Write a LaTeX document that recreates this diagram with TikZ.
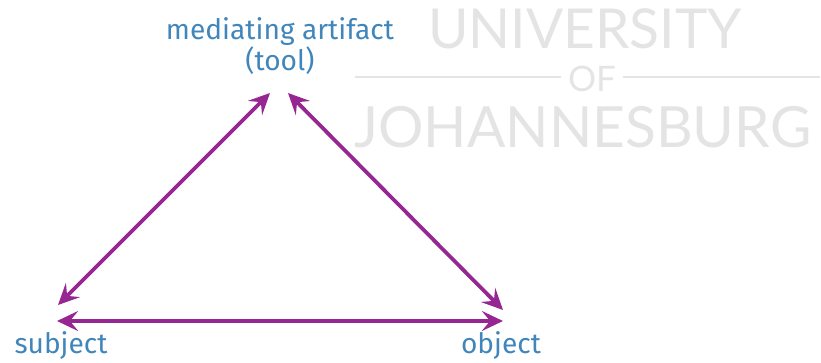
\documentclass[tikz,border=0pt]{standalone}
\usepackage{fontspec}
\setmainfont{Fira Sans}
\newfontfamily\wmfont{Lato}
\usepackage{tikz}
\usetikzlibrary{calc, arrows.meta, positioning}
\definecolor{labelblue}{RGB}{64,134,186}
\definecolor{arrowpurple}{RGB}{150,38,146}
\definecolor{wmgray}{RGB}{228,228,228}

\begin{document}
\begin{tikzpicture}[x=.03cm, y=-.03cm,
    lbl/.style={text=labelblue, font=\fontsize{24}{26.5}\selectfont, align=center, inner sep=0pt},
    twoway/.style={arrowpurple, line width=3.2pt, {Stealth[length=18pt, width=17pt, inset=7pt]}-{Stealth[length=18pt, width=17pt, inset=7pt]}},
    wm/.style={text=wmgray, font=\wmfont, inner sep=0pt}]
        \useasboundingbox (0,0) rectangle (821,362);
        % watermark
        \node[wm, font=\wmfont\fontsize{47}{47}\selectfont, anchor=base west] (uni) at (428,48) {UNIVERSITY};
        \node[wm, font=\wmfont\fontsize{30}{30}\selectfont, anchor=base] (of) at (592,91) {OF};
        \node[wm, font=\wmfont\fontsize{48.5}{48.5}\selectfont, anchor=base west] (jhb) at (354,147) {JOHANNESBURG};
        \coordinate (ofL) at (355,77);
        \coordinate (ofR) at (820,77);
        \draw[wmgray, line width=2pt] (ofL) -- ([xshift=-6pt]of.west |- ofL);
        \draw[wmgray, line width=2pt] ([xshift=6pt]of.east |- ofR) -- (ofR);
        % labels
        \node[lbl] (tool) at (280,46) {mediating artifact\\(tool)};
        \node[lbl, anchor=base] (subj) at (61,353) {subject};
        \node[lbl, anchor=base] (obj) at (501,353) {object};
        % arrow ends
        \coordinate (toolL) at (270,93);
        \coordinate (toolR) at (288,93);
        \coordinate (subjU) at (58,305);
        \coordinate (subjR) at (57,321);
        \coordinate (objU) at (503,310);
        \coordinate (objL) at (503,321);
        \draw[twoway] (subjU) -- (toolL);
        \draw[twoway] (toolR) -- (objU);
        \draw[twoway] (subjR) -- (objL);
      \end{tikzpicture}
\end{document}
